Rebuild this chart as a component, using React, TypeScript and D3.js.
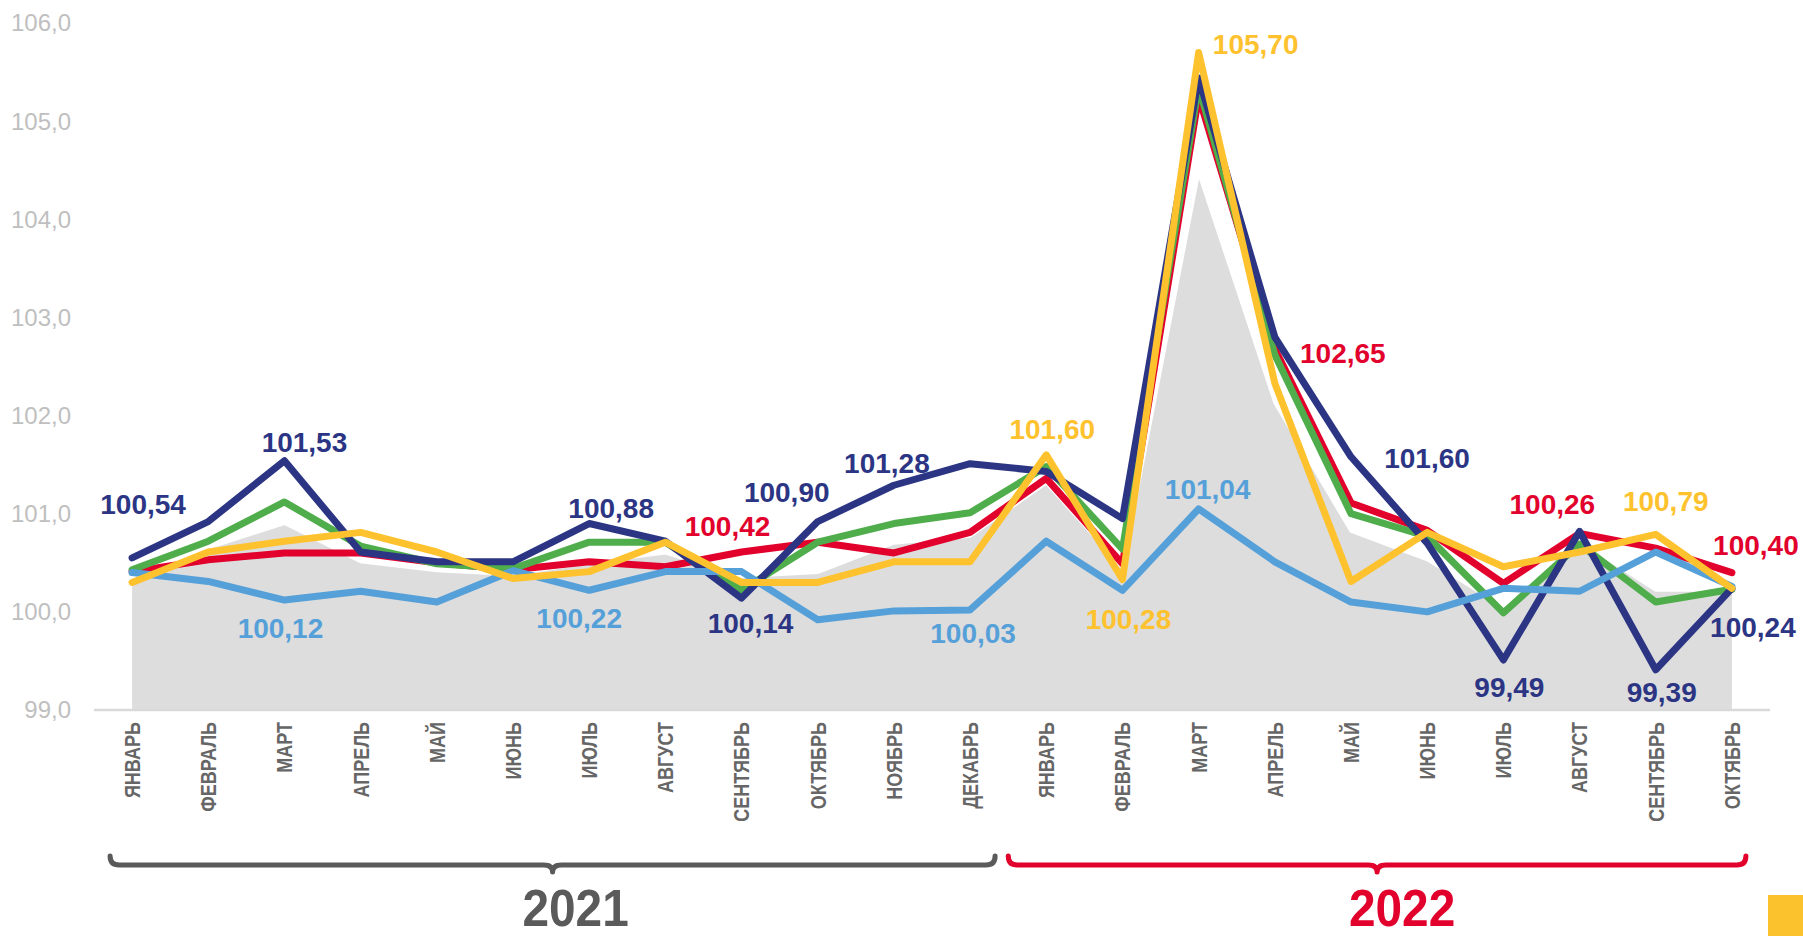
import React from 'react';
import * as d3 from 'd3';

const months2021 = ['ЯНВАРЬ', 'ФЕВРАЛЬ', 'МАРТ', 'АПРЕЛЬ', 'МАЙ', 'ИЮНЬ', 'ИЮЛЬ', 'АВГУСТ', 'СЕНТЯБРЬ', 'ОКТЯБРЬ', 'НОЯБРЬ', 'ДЕКАБРЬ'];
const months2022 = ['ЯНВАРЬ', 'ФЕВРАЛЬ', 'МАРТ', 'АПРЕЛЬ', 'МАЙ', 'ИЮНЬ', 'ИЮЛЬ', 'АВГУСТ', 'СЕНТЯБРЬ', 'ОКТЯБРЬ'];
const yearLabels = ['2021', '2022'];
const yTicks = [99, 100, 101, 102, 103, 104, 105, 106];

const grayArea = [100.35, 100.65, 100.90, 100.51, 100.42, 100.38, 100.50, 100.60, 100.36, 100.40, 100.70, 100.77, 101.31, 100.45, 104.47, 102.13, 100.82, 100.53, 100.05, 100.72, 100.22, 100.22];
const navySeries = [100.55, 100.92, 101.54, 100.61, 100.51, 100.51, 100.90, 100.72, 100.14, 100.92, 101.29, 101.51, 101.43, 100.95, 105.44, 102.80, 101.58, 100.70, 99.51, 100.82, 99.41, 100.24];
const redSeries = [100.41, 100.53, 100.60, 100.60, 100.50, 100.43, 100.51, 100.46, 100.61, 100.71, 100.60, 100.81, 101.36, 100.49, 105.25, 102.68, 101.11, 100.83, 100.29, 100.80, 100.65, 100.40];
const greenSeries = [100.43, 100.72, 101.12, 100.67, 100.49, 100.44, 100.71, 100.71, 100.22, 100.71, 100.90, 101.01, 101.48, 100.64, 105.35, 102.62, 101.00, 100.77, 99.99, 100.69, 100.10, 100.23];
const yellowSeries = [100.30, 100.61, 100.72, 100.81, 100.61, 100.34, 100.41, 100.71, 100.30, 100.30, 100.51, 100.51, 101.60, 100.33, 105.70, 102.33, 100.31, 100.81, 100.46, 100.61, 100.79, 100.24];
const blueSeries = [100.40, 100.31, 100.12, 100.21, 100.10, 100.42, 100.22, 100.41, 100.41, 99.92, 100.01, 100.02, 100.72, 100.22, 101.05, 100.51, 100.10, 100.00, 100.24, 100.21, 100.61, 100.26];

// value labels: series key, month index, text
const labelSeries = ['navy', 'navy', 'blue', 'navy', 'blue', 'red', 'navy', 'navy', 'navy', 'blue', 'yellow', 'yellow', 'blue', 'yellow', 'red', 'navy', 'red', 'yellow', 'red', 'navy', 'navy', 'navy'];
const labelIndex = [0, 2, 2, 6, 6, 8, 8, 9, 10, 11, 12, 13, 14, 14, 15, 16, 18, 20, 21, 21, 18, 20];
const labelText = ['100,54', '101,53', '100,12', '100,88', '100,22', '100,42', '100,14', '100,90', '101,28', '100,03', '101,60', '100,28', '101,04', '105,70', '102,65', '101,60', '100,26', '100,79', '100,40', '100,24', '99,49', '99,39'];

// layout offsets for labels (text centre x, baseline y relative to the point)
const labelOffsets: [number, number][] = [
  [11, -44], [20, -9], [-4, 38], [22, -6], [-10, 38], [-14, -16], [9, 35], [-31, -20], [-7, -12], [3, 33],
  [6, -16], [6, 50], [9, -10], [57, 2], [68, 14], [76, 11], [49, -69], [10, -23], [24, -18], [21, 49], [6, 37], [6, 32],
];

const COLORS: Record<string, string> = {
  navy: '#2b3584',
  red: '#e2012c',
  green: '#4fae4b',
  yellow: '#fec22f',
  blue: '#55a0d9',
};

const seriesMap: Record<string, number[]> = {
  red: redSeries,
  green: greenSeries,
  navy: navySeries,
  blue: blueSeries,
  yellow: yellowSeries,
};
const drawOrder = ['red', 'green', 'navy', 'blue', 'yellow'];

const W = 1803;
const H = 936;
const FONT = '"Liberation Sans", Arial, Helvetica, sans-serif';

export default function App() {
  const categories = [...months2021.map((m) => m + ' 2021'), ...months2022.map((m) => m + ' 2022')];
  const monthNames = [...months2021, ...months2022];

  const xBand = d3.scaleBand<string>().domain(categories).range([94, 1770]).paddingInner(0).paddingOuter(0);
  const x = (i: number) => (xBand(categories[i]) as number) + xBand.bandwidth() / 2;
  const y = d3.scaleLinear().domain([99, 106]).range([710, 23]);

  const line = d3
    .line<number>()
    .x((_, i) => x(i))
    .y((d) => y(d));
  const area = d3
    .area<number>()
    .x((_, i) => x(i))
    .y0(y(99))
    .y1((d) => y(d));
  const areaTop = d3
    .line<number>()
    .x((_, i) => x(i))
    .y((d) => y(d));

  const fmtTick = (v: number) => d3.format('.1f')(v).replace('.', ',');

  // brackets
  const brackets = [
    { x0: x(0) - 22, x1: x(11) + 25, color: '#5a5a5a', text: yearLabels[0], tx: 23 },
    { x0: x(12) - 38, x1: x(21) + 14, color: '#e2012c', text: yearLabels[1], tx: 25 },
  ];
  const bracePath = (x0: number, x1: number) => {
    const yt = 856;
    const yl = 865;
    const yd = 872;
    const xm = (x0 + x1) / 2;
    const r = 9;
    return `M${x0},${yt} Q${x0},${yl} ${x0 + r},${yl} L${xm - r},${yl} Q${xm},${yl} ${xm},${yd} Q${xm},${yl} ${xm + r},${yl} L${x1 - r},${yl} Q${x1},${yl} ${x1},${yt}`;
  };

  return (
    <svg
      width={W}
      height={H}
      viewBox={`0 0 ${W} ${H}`}
      style={{ position: 'absolute', left: 0, top: 0, background: '#ffffff' }}
      fontFamily={FONT}
    >
      <rect x={0} y={0} width={W} height={H} fill="#ffffff" />
      {/* y tick labels */}
      {yTicks.map((t) => (
        <text key={t} x={71} y={y(t)} dy="0.35em" textAnchor="end" fontSize={24} fill="#bfbfbf">
          {fmtTick(t)}
        </text>
      ))}
      {/* gray area */}
      <path d={area(grayArea) as string} fill="#dddddd" />
      <path d={areaTop(grayArea) as string} fill="none" stroke="#ffffff" strokeWidth={3} />
      {/* axis line */}
      <line x1={94} x2={1770} y1={y(99)} y2={y(99)} stroke="#d9d9d9" strokeWidth={2.5} />
      {/* series lines */}
      {drawOrder.map((k) => (
        <path
          key={k}
          d={line(seriesMap[k]) as string}
          fill="none"
          stroke={COLORS[k]}
          strokeWidth={7}
          strokeLinejoin="round"
          strokeLinecap="round"
        />
      ))}
      {/* value labels */}
      {labelText.map((t, j) => {
        const k = labelSeries[j];
        const i = labelIndex[j];
        const v = seriesMap[k][i];
        const [dx, dy] = labelOffsets[j];
        return (
          <text
            key={j}
            x={x(i) + dx}
            y={y(v) + dy}
            textAnchor="middle"
            fontSize={28}
            fontWeight="bold"
            fill={COLORS[k]}
          >
            {t}
          </text>
        );
      })}
      {/* month labels */}
      {monthNames.map((m, i) => (
        <text
          key={i}
          transform={`translate(${x(i)},${722}) rotate(-90) scale(0.82,1)`}
          textAnchor="end"
          dy="0.36em"
          fontSize={22}
          fontWeight="bold"
          fill="#666666"
        >
          {m}
        </text>
      ))}
      {/* year brackets */}
      {brackets.map((b) => (
        <g key={b.text}>
          <path d={bracePath(b.x0, b.x1)} fill="none" stroke={b.color} strokeWidth={5} strokeLinecap="round" strokeLinejoin="round" />
          <text
            transform={`translate(${(b.x0 + b.x1) / 2 + b.tx},${926}) scale(0.92,1)`}
            textAnchor="middle"
            fontSize={52}
            fontWeight="bold"
            fill={b.color}
          >
            {b.text}
          </text>
        </g>
      ))}
      {/* corner marker */}
      <rect x={1768} y={895} width={35} height={41} fill="#fcc22e" />
    </svg>
  );
}
